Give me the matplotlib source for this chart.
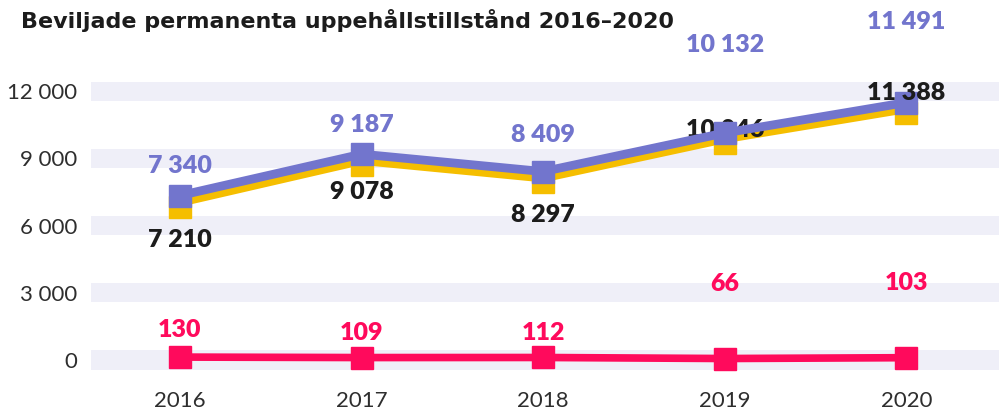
import matplotlib
matplotlib.use("Agg")
import matplotlib.pyplot as plt
import matplotlib.transforms as mtransforms

plt.rcParams['font.family'] = ['Lato', 'DejaVu Sans']

years = ["2016", "2017", "2018", "2019", "2020"]
purple_vals = [7340, 9187, 8409, 10132, 11491]
yellow_vals = [7210, 9078, 8297, 10046, 11388]
pink_vals = [130, 109, 112, 66, 103]
yticks = [0, 3000, 6000, 9000, 12000]
title = "Beviljade permanenta uppehållstillstånd 2016–2020"

# label offsets (points) - styling only
purple_off = [21, 21, 26, 63, 58]
yellow_off = [-30, -25.5, -29.5, 3.5, 8.5]
pink_off = [19.5, 17.5, 17.5, 53.5, 54]

PURPLE = "#7275cd"
YELLOW = "#f5be00"
PINK = "#ff0a5c"
BAND = "#efeff8"

def fmt(v):
    return f"{v:,}".replace(",", " ")

fig = plt.figure(figsize=(9.99, 4.15), dpi=100)
bot = 371.2
top = 79.9
ax = fig.add_axes([91/999, 1-bot/415, 908/999, (bot-top)/415])
ax.set_xlim(-0.49, 4.51)
ax.set_ylim(-500, 12500)

for t in yticks:
    ax.axhspan(t - 425, t + 425, color=BAND, lw=0, zorder=0)

x = list(range(len(years)))
line_off = mtransforms.offset_copy(ax.transData, fig=fig, x=0, y=-3.0, units='points')
mark_off = mtransforms.offset_copy(ax.transData, fig=fig, x=0, y=-6.0, units='points')

ax.plot(x, yellow_vals, color=YELLOW, lw=6, transform=line_off, zorder=2, solid_joinstyle='miter')
ax.plot(x, yellow_vals, ls='none', marker='s', ms=16, color=YELLOW, transform=mark_off, zorder=2)
ax.plot(x, purple_vals, color=PURPLE, lw=6.3, marker='s', ms=16, zorder=4, solid_joinstyle='miter')
ax.plot(x, pink_vals, color=PINK, lw=5.5, marker='s', ms=16, zorder=4)

LFS = 18
for i in x:
    ax.annotate(fmt(purple_vals[i]), (i, purple_vals[i]), xytext=(0, purple_off[i]),
                textcoords='offset points', ha='center', va='center', fontsize=LFS,
                fontweight='heavy', color=PURPLE, zorder=6, annotation_clip=False)
    ax.annotate(fmt(yellow_vals[i]), (i, yellow_vals[i]), xytext=(0, yellow_off[i]),
                textcoords='offset points', ha='center', va='center', fontsize=LFS,
                fontweight='heavy', color="#1c1c1c", zorder=6 if i == 4 else 3,
                annotation_clip=False)
    ax.annotate(fmt(pink_vals[i]), (i, pink_vals[i]), xytext=(0, pink_off[i]),
                textcoords='offset points', ha='center', va='center', fontsize=LFS,
                fontweight='heavy', color=PINK, zorder=6, annotation_clip=False)

ax.set_xticks(x)
ax.set_xticklabels(years)
ax.set_yticks(yticks)
ax.set_yticklabels([fmt(t) for t in yticks])
ax.tick_params(length=0, labelsize=16, labelcolor="#2e2e2e")
ax.tick_params(axis='y', pad=10)
ax.tick_params(axis='x', pad=14)
for s in ax.spines.values():
    s.set_visible(False)

fig.text(21/999, 1-20/415, title, fontsize=16, fontweight='bold', color="#1c1c1c",
         ha='left', va='center', family=['DejaVu Sans'])

fig.savefig("out.png", dpi=100)
